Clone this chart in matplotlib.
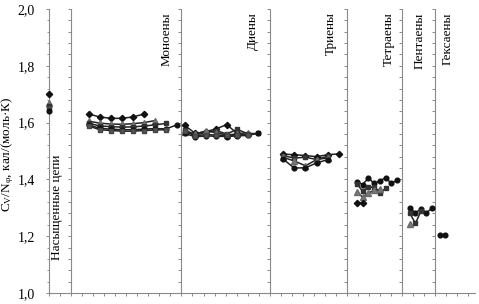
import numpy as np
import matplotlib
matplotlib.use("Agg")
import matplotlib.pyplot as plt
from matplotlib.ticker import MultipleLocator, FuncFormatter

plt.rcParams['font.family'] = ['Liberation Serif', 'DejaVu Serif']
plt.rcParams['mathtext.fontset'] = 'custom'
plt.rcParams['mathtext.rm'] = 'Liberation Serif'
plt.rcParams['mathtext.it'] = 'Liberation Serif:italic'

# ---------------- data ----------------
sat_x = [0.0, 0.0, 0.0, 0.0, 0.0]
sat_y = [1.70, 1.67, 1.66, 1.65, 1.64]

mono_x = [3.6, 4.6, 5.6, 6.6, 7.6, 8.6, 9.6, 10.6, 11.6]
mono_1 = [1.630, 1.620, 1.615, 1.615, 1.620, 1.630]
mono_2 = [1.605, 1.598, 1.595, 1.594, 1.596, 1.600, 1.607]
mono_3 = [1.598, 1.588, 1.586, 1.584, 1.585, 1.588, 1.592, 1.597]
mono_4 = [1.592, 1.580, 1.577, 1.575, 1.575, 1.577, 1.579, 1.578, 1.592]
mono_5 = [1.588, 1.575, 1.572, 1.570, 1.570, 1.572, 1.574, 1.575]

diene_x = [12.3, 13.25, 14.2, 15.15, 16.1, 17.05, 18.0, 18.95]
diene_1 = [1.590, 1.562, 1.568, 1.578, 1.593, 1.562]
diene_2 = [1.575, 1.556, 1.566, 1.572, 1.560, 1.576, 1.561, 1.562]
diene_3 = [1.568, 1.560, 1.570, 1.565, 1.556, 1.560, 1.565]
diene_4 = [1.562, 1.550, 1.553, 1.552, 1.551, 1.553, 1.555, 1.562]
diene_5 = [1.570, 1.553, 1.558, 1.556, 1.555, 1.556, 1.558]

triene_x = [21.2, 22.22, 23.24, 24.26, 25.28, 26.3]
triene_1 = [1.489, 1.487, 1.484, 1.480, 1.487, 1.490]
triene_2 = [1.484, 1.475, 1.478, 1.470, 1.482]
triene_3 = [1.478, 1.465, 1.448, 1.470, 1.476]
triene_4 = [1.472, 1.440, 1.441, 1.458, 1.470]

tetra_x = [27.9, 28.42, 28.94, 29.46, 29.98, 30.5, 31.02, 31.54]
tetra_1 = [1.392, 1.382, 1.405, 1.386, 1.395, 1.406, 1.386, 1.397]
tetra_2 = [1.385, 1.358, 1.373, 1.372, 1.352, 1.368]
tetra_3 = [1.357, 1.337, 1.352, 1.362, 1.365]
tetra_4 = [1.318, 1.318]

penta_x = [32.7, 33.2, 33.7, 34.2, 34.7]
penta_1 = [1.298, 1.283, 1.295, 1.283, 1.298]
penta_2 = [1.281, 1.245, 1.288]
penta_3 = [1.243]

hexa_x = [35.4, 35.9]
hexa_1 = [1.204, 1.204]

dividers = [2, 12, 20, 27, 32, 35]
group_labels = ['Моноены', 'Диены', 'Триены', 'Тетраены', 'Пентаены', 'Гексаены']
group_label_x = [10.7, 18.5, 25.5, 30.8, 33.6, 36.1]
sat_label = 'Насыщенные цепи'
ylabel = r'C$_\mathregular{V}$/N$_\mathregular{φ}$, кал/(моль·К)'

# ---------------- figure ----------------
fig = plt.figure(figsize=(4.79, 3.04), dpi=100)
ax = fig.add_axes([49/479, 1-293/304, (475-49)/479, (293-9)/304])

axis_col = '#8a8a8a'
line_col = '#222222'
styles = {
    'D': dict(marker='D', ms=3.2, mfc='#111111', mec='#111111'),
    '^': dict(marker='^', ms=4.0, mfc='#7a7a7a', mec='#6a6a6a'),
    's': dict(marker='s', ms=3.4, mfc='#333333', mec='#333333'),
    'o': dict(marker='o', ms=3.4, mfc='#111111', mec='#111111'),
    's2': dict(marker='s', ms=3.0, mfc='#555555', mec='#444444'),
}

def series(xs, ys, key):
    ax.plot(xs[:len(ys)], ys, color=line_col, lw=1.1, zorder=3, **styles[key])

groups = [
    (mono_x, [(mono_1, 'D'), (mono_2, '^'), (mono_3, 's'), (mono_4, 'o'), (mono_5, 's2')]),
    (diene_x, [(diene_1, 'D'), (diene_2, 's'), (diene_3, '^'), (diene_4, 'o'), (diene_5, 's2')]),
    (triene_x, [(triene_1, 'D'), (triene_2, 's'), (triene_3, '^'), (triene_4, 'o')]),
    (tetra_x, [(tetra_1, 'o'), (tetra_2, 's'), (tetra_3, '^'), (tetra_4, 'D')]),
    (penta_x, [(penta_1, 'o'), (penta_2, 's'), (penta_3, '^')]),
    (hexa_x, [(hexa_1, 'o')]),
]
for xs, ser in groups:
    for ys, key in ser:
        series(xs, ys, key)

sat_keys = ['D', '^', 's', 's2', 'o']
for x, y, k in zip(sat_x, sat_y, sat_keys):
    ax.plot([x], [y], linestyle='none', zorder=4, clip_on=False, **styles[k])

# dividers with small ticks
yt = np.arange(1.0, 2.0001, 0.04)
for d in dividers:
    ax.plot([d, d], [1.0, 2.0], color=axis_col, lw=0.8, zorder=1)
    ax.plot(np.full_like(yt, d), yt, linestyle='none', marker=0, ms=2.2,
            mew=0.7, color=axis_col, zorder=1)

# labels
for lab, lx in zip(group_labels, group_label_x):
    ax.text(lx, 1.988, lab, rotation=90, ha='center', va='top', fontsize=9.5)
ax.text(0.77, 1.30, sat_label, rotation=90, ha='center', va='center', fontsize=9.5)

ax.set_xlim(0, 38.6)
ax.set_ylim(1.0, 2.0)
for s in ['top', 'right']:
    ax.spines[s].set_visible(False)
for s in ['left', 'bottom']:
    ax.spines[s].set_color(axis_col)
    ax.spines[s].set_linewidth(0.8)

ax.xaxis.set_major_locator(MultipleLocator(1))
ax.xaxis.set_major_formatter(FuncFormatter(lambda v, p: ''))
ax.tick_params(axis='x', direction='out', length=2.2, width=0.7, color=axis_col)
ax.yaxis.set_major_locator(MultipleLocator(0.2))
ax.yaxis.set_minor_locator(MultipleLocator(0.04))
ax.yaxis.set_major_formatter(FuncFormatter(lambda v, p: f'{v:.1f}'.replace('.', ',')))
ax.tick_params(axis='y', which='major', direction='out', length=2.5, width=0.7,
               color=axis_col, labelsize=10, pad=7.5)
ax.tick_params(axis='y', which='minor', direction='out', length=1.5, width=0.6,
               color=axis_col)
ax.set_ylabel(ylabel, fontsize=9.5)
ax.yaxis.set_label_coords((16 - 49) / 426, 0.49)

fig.savefig('out.png', dpi=100)
